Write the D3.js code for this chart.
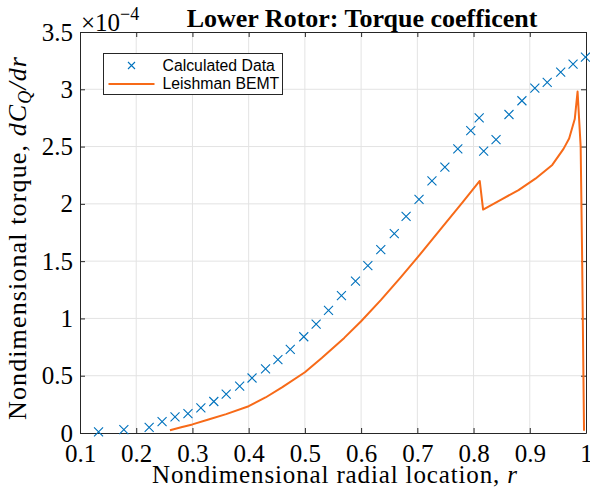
<!DOCTYPE html>
<html>
<head>
<meta charset="utf-8">
<script src="https://cdn.jsdelivr.net/npm/d3@7"></script>
<style>
  body { margin: 0; background: #fff; }
  svg { display: block; }
  .serif { font-family: "Liberation Serif", "Times New Roman", serif; }
</style>
</head>
<body>
<svg id="chart" width="590" height="491"></svg>
<script>
// values are in units of 1e-4 (the axis multiplier)
var calcR = [0.133, 0.178, 0.223, 0.246, 0.269, 0.292, 0.315, 0.338, 0.360, 0.384, 0.406, 0.430,
  0.452, 0.474, 0.498, 0.520, 0.542, 0.565, 0.590, 0.612, 0.635, 0.659, 0.680, 0.703, 0.726,
  0.749, 0.772, 0.795, 0.810, 0.818, 0.840, 0.863, 0.886, 0.909, 0.931, 0.955, 0.977, 0.999];
var calcVal = [0.01, 0.03, 0.05, 0.10, 0.14, 0.17, 0.22, 0.275, 0.34, 0.41, 0.48, 0.56,
  0.64, 0.73, 0.84, 0.95, 1.07, 1.20, 1.325, 1.46, 1.60, 1.74, 1.89, 2.04, 2.20,
  2.32, 2.48, 2.64, 2.75, 2.46, 2.56, 2.78, 2.90, 3.01, 3.06, 3.15, 3.22, 3.28];

var bemtR = [0.26, 0.28, 0.30, 0.33, 0.36, 0.40, 0.43, 0.46, 0.50, 0.53, 0.57, 0.60, 0.635,
  0.67, 0.70, 0.74, 0.78, 0.811, 0.817, 0.85, 0.88, 0.91, 0.94, 0.96, 0.97, 0.98, 0.985,
  0.9905, 0.993, 0.9965];
var bemtVal = [0.024, 0.05, 0.075, 0.12, 0.165, 0.234, 0.31, 0.40, 0.53, 0.655, 0.83, 0.975, 1.16,
  1.356, 1.53, 1.77, 2.01, 2.20, 1.95, 2.04, 2.12, 2.22, 2.34, 2.48, 2.57, 2.74, 2.98,
  2.50, 1.58, 0.02];

var xTicks = [0.1, 0.2, 0.3, 0.4, 0.5, 0.6, 0.7, 0.8, 0.9, 1];
var yTicks = [0, 0.5, 1, 1.5, 2, 2.5, 3, 3.5];
var seriesNames = ["Calculated Data", "Leishman BEMT"];

var svg = d3.select("#chart");
var margin = {left: 80, right: 4, top: 32, down: 58};
var width = 590 - margin.left - margin.right,
    height = 491 - margin.top - margin.down;

var g = svg.append("g")
  .attr("transform", "translate(" + margin.left + "," + margin.top + ")");

var x = d3.scaleLinear().domain([0.1, 1]).range([0, width]);
var y = d3.scaleLinear().domain([0, 3.5]).range([height, 0]);

var axisColor = "#262626";
var blue = "#0072BD";
var orange = "#f76a18";

// grid
g.append("g").selectAll("line").data(xTicks.slice(1, -1)).enter().append("line")
  .attr("x1", function(d) { return x(d); }).attr("x2", function(d) { return x(d); })
  .attr("y1", 0).attr("y2", height)
  .attr("stroke", "#e3e3e3").attr("stroke-width", 1);
g.append("g").selectAll("line").data(yTicks.slice(1, -1)).enter().append("line")
  .attr("y1", function(d) { return y(d); }).attr("y2", function(d) { return y(d); })
  .attr("x1", 0).attr("x2", width)
  .attr("stroke", "#e3e3e3").attr("stroke-width", 1);

// axes with ticks pointing inward
function styleAxis(sel) {
  sel.attr("font-family", null).attr("font-size", null);
  sel.select(".domain").attr("stroke", axisColor);
  sel.selectAll(".tick line").attr("stroke", axisColor);
  sel.selectAll(".tick text")
    .attr("class", "serif")
    .style("font-size", "25px")
    .attr("fill", "#000");
}
var fmt = function(d) { return d3.format("")(d); };

g.append("g")
  .attr("transform", "translate(0," + height + ")")
  .call(d3.axisBottom(x).tickValues(xTicks).tickFormat(fmt).tickSizeInner(-5).tickSizeOuter(0).tickPadding(11))
  .call(styleAxis);
g.append("g")
  .call(d3.axisTop(x).tickValues(xTicks).tickFormat("").tickSizeInner(-5).tickSizeOuter(0))
  .call(styleAxis);
g.append("g")
  .call(d3.axisLeft(y).tickValues(yTicks).tickFormat(fmt).tickSizeInner(-5).tickSizeOuter(0).tickPadding(7))
  .call(styleAxis);
g.append("g")
  .attr("transform", "translate(" + width + ",0)")
  .call(d3.axisRight(y).tickValues(yTicks).tickFormat("").tickSizeInner(-5).tickSizeOuter(0))
  .call(styleAxis);

// BEMT line
var line = d3.line()
  .x(function(d, i) { return x(bemtR[i]); })
  .y(function(d) { return y(d); });
g.append("path")
  .datum(bemtVal)
  .attr("fill", "none")
  .attr("stroke", orange)
  .attr("stroke-width", 2)
  .attr("stroke-linejoin", "round")
  .attr("d", line);

// calculated data crosses
var cs = 4.5;
g.append("g").selectAll("path").data(calcVal).enter().append("path")
  .attr("d", function(d, i) {
    var cx = x(calcR[i]), cy = y(d);
    return "M" + (cx - cs) + "," + (cy - cs) + "L" + (cx + cs) + "," + (cy + cs) +
      "M" + (cx - cs) + "," + (cy + cs) + "L" + (cx + cs) + "," + (cy - cs);
  })
  .attr("stroke", blue)
  .attr("stroke-width", 1.1)
  .attr("fill", "none");

// exponent
var expo = svg.append("text").attr("class", "serif")
  .attr("x", 81).attr("y", 31).style("font-size", "25px").attr("fill", "#000");
expo.append("tspan").text("\u00d710");
expo.append("tspan").attr("dy", -11).style("font-size", "18px").text("\u22124");

// title
svg.append("text").attr("class", "serif")
  .attr("x", 362).attr("y", 27)
  .attr("text-anchor", "middle")
  .style("font-size", "26px").style("font-weight", "bold")
  .text("Lower Rotor: Torque coefficent");

// x label
var xl = svg.append("text").attr("class", "serif")
  .attr("x", 152).attr("y", 483)
  .attr("textLength", 365).attr("lengthAdjust", "spacing")
  .style("font-size", "25px");
xl.append("tspan").text("Nondimensional radial location, ");
xl.append("tspan").style("font-style", "italic").text("r");

// y label
var yl = svg.append("text").attr("class", "serif")
  .attr("transform", "translate(26,420) rotate(-90)")
  .attr("textLength", 363).attr("lengthAdjust", "spacing")
  .style("font-size", "26px");
yl.append("tspan").text("Nondimensional torque, ");
yl.append("tspan").style("font-style", "italic").text("dC");
yl.append("tspan").style("font-style", "italic").style("font-size", "18px").attr("dy", 5).text("Q");
yl.append("tspan").style("font-style", "italic").attr("dy", -5).text("/dr");

// legend
var lg = svg.append("g").attr("transform", "translate(103.5,53.5)");
lg.append("rect").attr("width", 179).attr("height", 41)
  .attr("fill", "#fff").attr("stroke", axisColor).attr("stroke-width", 1);
lg.append("path")
  .attr("d", "M" + (28 - 3.5) + "," + (12 - 3.5) + "L" + (28 + 3.5) + "," + (12 + 3.5) +
    "M" + (28 - 3.5) + "," + (12 + 3.5) + "L" + (28 + 3.5) + "," + (12 - 3.5))
  .attr("stroke", blue).attr("stroke-width", 1.1);
lg.append("line").attr("x1", 5).attr("x2", 51).attr("y1", 30.5).attr("y2", 30.5)
  .attr("stroke", orange).attr("stroke-width", 2);
lg.selectAll("text.leg").data(seriesNames).enter().append("text")
  .attr("x", 59).attr("y", function(d, i) { return 17.5 + i * 18; })
  .style("font-family", "'Liberation Sans', Arial, sans-serif")
  .style("font-size", "15.8px")
  .text(function(d) { return d; });
</script>
</body>
</html>
